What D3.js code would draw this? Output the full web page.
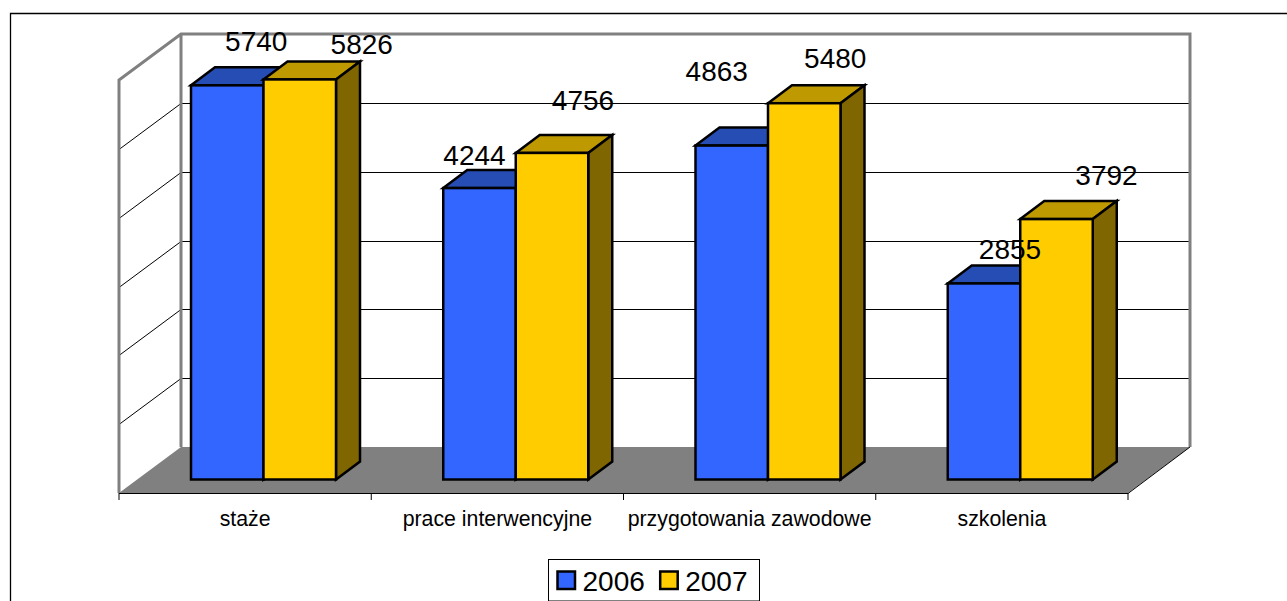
<!DOCTYPE html>
<html>
<head>
<meta charset="utf-8">
<script src="https://cdn.jsdelivr.net/npm/d3@7"></script>
<style>
html, body { margin: 0; padding: 0; background: #fff; overflow: hidden; }
text { font-family: "Liberation Sans", Arial, sans-serif; fill: #000; }
</style>
</head>
<body>
<div class="graph"></div>
<script>
const categories = ["staże", "prace interwencyjne", "przygotowania zawodowe", "szkolenia"];
const years = ["2006", "2007"];
const values2006 = [5740, 4244, 4863, 2855];
const values2007 = [5826, 4756, 5480, 3792];
const seriesValues = [values2006, values2007];

const faceColors = ["#3366ff", "#ffcc00"];
const topColors = ["#264db3", "#bf9900"];
const sideColors = ["#1f3d80", "#806600"];

// labels were dragged by hand in the original, so each has its own nudge from the bar
const labelDx = [[29, -5, -15, 26], [62, 31, 31, 50]];
const labelBase = [[-34, -23, -65, -24], [-25, -43, -35, -34]];

const width = 1287, height = 601;
const wall = { left: 119, right: 1128, bottom: 493, top: 80, dx: 62, dy: -46 };
const barDepth = { dx: 24, dy: -18, floorInset: 13.5 };

const svg = d3.select(".graph").append("svg")
    .attr("width", width)
    .attr("height", height)
    .style("display", "block");

// chart frame, bottom and right run off the picture
svg.append("path")
    .attr("d", "M10.5,601V13.5H1287")
    .attr("fill", "none")
    .attr("stroke", "#000")
    .attr("stroke-width", 1.3);

const x = d3.scaleBand().domain(categories).range([wall.left, wall.right]);
const inner = d3.scaleBand().domain(years).range([72, 72 + 145]);
const y = d3.scaleLinear().domain([0, 6000]).range([wall.bottom, wall.top]);
const yBar = d3.scaleLinear().domain([0, 6000]).range([wall.bottom - barDepth.floorInset, wall.top - barDepth.floorInset + 1]);

const pts = a => a.map(p => p.join(",")).join(" ");

// floor
svg.append("polygon")
    .attr("fill", "#808080")
    .attr("points", pts([
        [wall.left, wall.bottom],
        [wall.right, wall.bottom],
        [wall.right + wall.dx, wall.bottom + wall.dy],
        [wall.left + wall.dx, wall.bottom + wall.dy]
    ]));

// gridlines on both walls
const grid = svg.append("g").attr("stroke", "#000").attr("stroke-width", 1).attr("fill", "none");
y.ticks(6).slice(1, -1).forEach(t => {
    const gy = Math.round(y(t)) + .5;
    grid.append("path")
        .attr("d", "M" + wall.left + "," + gy
            + "L" + (wall.left + wall.dx) + "," + (gy + wall.dy)
            + "H" + (wall.right + wall.dx));
});

// wall outlines
svg.append("path")
    .attr("fill", "none")
    .attr("stroke", "#808080")
    .attr("stroke-width", 3)
    .attr("d", "M" + wall.left + "," + wall.bottom + "V" + wall.top
        + "L" + (wall.left + wall.dx) + "," + (wall.top + wall.dy)
        + "H" + (wall.right + wall.dx)
        + "V" + (wall.bottom + wall.dy)
        + "M" + (wall.left + wall.dx) + "," + (wall.top + wall.dy)
        + "V" + (wall.bottom + wall.dy));

// x axis
const axis = svg.append("g")
    .attr("transform", "translate(0," + wall.bottom + ")")
    .call(d3.axisBottom(x).tickSize(0).tickPadding(18));
axis.select(".domain").remove();
axis.selectAll("text").style("font-size", "21.3px").style("font-family", '"Liberation Sans", Arial, sans-serif');

const baseline = svg.append("g").attr("stroke", "#000").attr("fill", "none");
baseline.append("path")
    .attr("d", "M" + wall.left + "," + (wall.bottom + .5) + "H" + wall.right
        + "L" + (wall.right + wall.dx) + "," + (wall.bottom + wall.dy));
x.domain().forEach(c => {
    baseline.append("line")
        .attr("x1", x(c)).attr("x2", x(c))
        .attr("y1", wall.bottom).attr("y2", wall.bottom + 7);
});
baseline.append("line")
    .attr("x1", wall.right).attr("x2", wall.right)
    .attr("y1", wall.bottom).attr("y2", wall.bottom + 7);

// bars
const bars = svg.append("g");
const dx = barDepth.dx, dy = barDepth.dy;
categories.forEach((c, i) => {
    years.forEach((yr, s) => {
        const v = seriesValues[s][i];
        const x0 = x(c) + inner(yr);
        const x1 = x0 + inner.bandwidth();
        const yt = yBar(v), yb = yBar(0);
        const g = bars.append("g")
            .attr("stroke", "#000")
            .attr("stroke-width", 2.5)
            .attr("stroke-linejoin", "miter");
        g.append("polygon").attr("fill", topColors[s])
            .attr("points", pts([[x0, yt], [x1, yt], [x1 + dx, yt + dy], [x0 + dx, yt + dy]]));
        g.append("polygon").attr("fill", sideColors[s])
            .attr("points", pts([[x1, yt], [x1 + dx, yt + dy], [x1 + dx, yb + dy], [x1, yb]]));
        g.append("rect").attr("fill", faceColors[s])
            .attr("x", x0).attr("y", yt)
            .attr("width", x1 - x0).attr("height", yb - yt);
    });
});

// value labels on top of everything
categories.forEach((c, i) => {
    years.forEach((yr, s) => {
        const v = seriesValues[s][i];
        svg.append("text")
            .attr("x", x(c) + inner(yr) + inner.bandwidth() / 2 + labelDx[s][i])
            .attr("y", yBar(v) + labelBase[s][i])
            .attr("text-anchor", "middle")
            .style("font-size", "28px")
            .text(v);
    });
});

// legend, cut by the bottom of the picture
const legend = svg.append("g");
legend.append("rect")
    .attr("x", 548.5).attr("y", 559.5)
    .attr("width", 211).attr("height", 41.5)
    .attr("fill", "#fff").attr("stroke", "#000");
years.forEach((yr, s) => {
    const lx = 557.5 + s * 102.7;
    legend.append("rect")
        .attr("x", lx).attr("y", 571.5)
        .attr("width", 17.5).attr("height", 17.5)
        .attr("fill", faceColors[s])
        .attr("stroke", "#000").attr("stroke-width", 2.5);
    legend.append("text")
        .attr("x", lx + 25).attr("y", 591)
        .style("font-size", "28px")
        .text(yr);
});
</script>
</body>
</html>
